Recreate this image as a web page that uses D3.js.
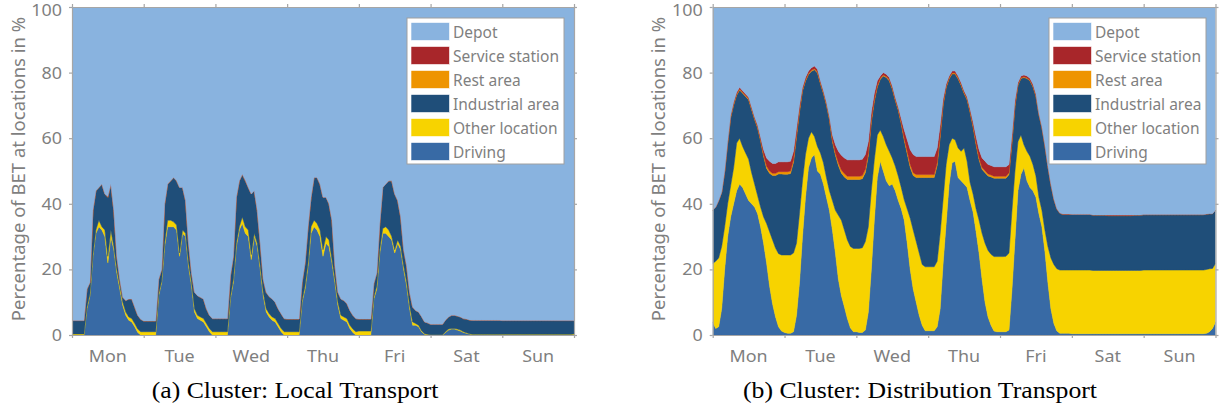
<!DOCTYPE html>
<html>
<head>
<meta charset="utf-8">
<script src="https://cdn.jsdelivr.net/npm/d3@7"></script>
<style>
  body { margin: 0; background: #fff; }
  svg { display: block; }
</style>
</head>
<body>
<svg id="fig" width="1219" height="411"></svg>
<script>
// Hourly share of battery-electric trucks (BET) per location over one week (Mon 0h .. next Mon 0h), in %.

const dayLabels = ["Mon", "Tue", "Wed", "Thu", "Fri", "Sat", "Sun"];
const yTicks = [0, 20, 40, 60, 80, 100];

// ---- Cluster: Local Transport ----
const localDriving = [
  0,0,0,0,0,8,12,24,31,33,32,30,22,30,26,19,14,9,6,4.5,4,2.5,0.8,0,
  0,0,0,0,0,12,16,27,33,33,33,32,24,31,30,21,15,7,5,4.5,4,2.5,1,0,
  0,0,0,0,0,11,16,27,32,34,31,30,23,30,27,20,12,7,5.5,4.5,4,2.5,1,0,
  0,0,0,0,0,10,14,21,31,33,32,30,24,28,27,22,16,9,5,4.5,4,2,0.8,0,
  0,0,0,0,0,11,14,25,31,31,30,29,25,28,26,20,15,8,3,3,2.5,1,0.2,0,
  0,0,0,0,0,0.8,1.5,1.8,1.8,1.5,1.2,0.8,0.5,0.3,0.1,0.1,0.1,0.1,0.1,0.1,0.1,0.1,0.1,0.1,
  0,0,0,0,0,0,0,0,0,0,0,0,0,0,0,0,0,0,0,0,0,0,0,0,
  0
];
const localOther = [
  0.3,0.3,0.3,0.3,0.3,0.5,0.5,0.5,1,2,1,2,2,2,1,1,1,1,1,1,1,1,1,1,
  1,1,1,1,1,0.5,0.5,1,2,2,1.5,1.5,1,1,1,1,1,1,1,1,1,1,1,1,
  1,1,1,1,1,0.5,1,1,1,2,2,2,1.5,1,1,1,1,1,1,1,1,1,1,1,
  1,1,1,1,1,0.5,1,1,2,2,2,2,2,2,2,1,1,1,1,1,1,1,1,1,
  1.2,1.2,1.2,1.2,1.2,0.5,1,1,1.5,2,2,1,1,1,1,1,1,1,1,0.5,0.5,0.3,0.2,0.2,
  0.1,0.1,0.1,0.1,0.1,0.2,0.3,0.2,0.2,0.3,0.3,0.2,0.2,0.1,0.1,0.1,0.1,0.1,0.1,0.1,0.1,0.1,0.1,0.1,
  0.2,0.2,0.2,0.2,0.2,0.2,0.2,0.2,0.2,0.2,0.2,0.2,0.2,0.2,0.2,0.2,0.2,0.2,0.2,0.2,0.2,0.2,0.2,0.2,
  0.3
];
const localIndustrial = [
  4.1,4.1,4.1,4.1,4.1,5.5,3.5,13.5,12,10,13,11,18,14,11,4,2,1.5,3.5,5.5,6,5,4.2,3.8,
  3.3,3.3,3.3,3.3,3.3,4.5,3.5,12,11,12,13.5,13.5,20,13,10,6,3,5,6,6,6,4.5,4,4,
  4,4,4,4,4,6.5,7,14,14,13,14,13,18.5,13,10,7,4,5,5.2,5.5,5,4.5,4.5,4,
  3.9,3.9,3.9,3.9,3.9,5.5,7,11,9,13,14,14,16,12,11,12,4,3,5,5,4.6,4.5,4.2,4,
  3.7,3.7,3.7,3.7,3.7,4.2,4,8,12.5,13,15,17,17,12,9,5,5,4,4.5,4,4,4.3,3.6,3.5,
  3.2,3.2,3.2,3.2,3.2,3.6,3.7,4,4,4,4,4,4.2,4.2,4.3,4.3,4.3,4.3,4.3,4.3,4.3,4.3,4.3,4.3,
  4.2,4.2,4.2,4.2,4.2,4.2,4.2,4.2,4.2,4.2,4.2,4.2,4.2,4.2,4.2,4.2,4.2,4.2,4.2,4.2,4.2,4.2,4.2,4.2,
  4.1
];
const localRest = [
  0,0,0,0,0,0,0,0,0,0,0,0,0,0,0,0,0,0,0,0,0,0,0,0,
  0,0,0,0,0,0,0,0,0,0,0,0,0,0,0,0,0,0,0,0,0,0,0,0,
  0,0,0,0,0,0,0,0,0,0,0,0,0,0,0,0,0,0,0,0,0,0,0,0,
  0,0,0,0,0,0,0,0,0,0,0,0,0,0,0,0,0,0,0,0,0,0,0,0,
  0,0,0,0,0,0,0,0,0,0,0,0,0,0,0,0,0,0,0,0,0,0,0,0,
  0,0,0,0,0,0,0,0,0,0,0,0,0,0,0,0,0,0,0,0,0,0,0,0,
  0,0,0,0,0,0,0,0,0,0,0,0,0,0,0,0,0,0,0,0,0,0,0,0,
  0
];
const localService = [
  0,0,0,0,0,0,0,0,0,0,0,0,0.2,0,0,0,0,0,0,0,0,0,0,0,
  0,0,0,0,0,0,0,0,0,0,0,0,0,0,0,0,0,0,0,0,0,0,0,0,
  0,0,0,0,0,0,0,0,0,0,0.2,0,0,0,0,0,0,0,0,0,0,0,0,0,
  0,0,0,0,0,0,0,0,0,0,0,0,0,0,0,0,0,0,0,0,0,0,0,0,
  0,0,0,0,0,0,0,0,0,0,0,0,0,0,0,0,0,0,0,0,0,0,0,0,
  0,0,0,0,0,0,0,0,0,0,0,0,0,0,0,0,0,0,0,0,0,0,0,0,
  0,0,0,0,0,0,0,0,0,0,0,0,0,0,0,0,0,0,0,0,0,0,0,0,
  0
];

// ---- Cluster: Distribution Transport ----
const distDriving = [
  4,2,2.5,8,20,30,36,40,44,46,45,43,41,40,39,37,33,28,22,15,9.5,5.5,2.5,1.2,
  0.8,0.5,0.5,1,6,16,30,42,51,54,55,50,49,46,42,38,32,25,17,12,8.6,5,2.2,1,
  1,0.8,0.8,1.5,7,20,35,48,53,50,47,45.5,46,44,41,38.5,35,28,20,14,10,6,3,1.3,
  1.3,1.3,1.3,2.5,8,22,34,46,52.5,53,48,47,46,45,41,37.5,31.5,25,17,10,5.5,3,1.2,1,
  1,1,1,1.5,14,29,44,49,51,47,45,44,42,37,33,25.5,16,8,3.5,1.2,0.5,0.5,0.5,0.5,
  0.4,0.4,0.4,0.4,0.4,0.4,0.4,0.4,0.4,0.4,0.4,0.4,0.4,0.4,0.4,0.4,0.4,0.4,0.4,0.4,0.4,0.4,0.4,0.4,
  0.4,0.4,0.4,0.4,0.4,0.4,0.4,0.4,0.4,0.4,0.4,0.4,0.4,0.4,0.4,0.4,0.4,0.4,0.4,0.4,0.4,0.5,1,2,
  4
];
const distOther = [
  17.8,20.5,21,19,13,10,9.5,11,14.5,14,12.5,12.5,12.6,9.5,7,5.5,6,8,12,16.5,19.5,21,22.3,23.2,
  23.6,23.9,23.9,24,22,21,17,13,9,8,5.5,7.5,6.5,6.5,6,6,9,13,19.5,23,23.4,24,24.8,25.4,
  25.4,25.6,25.8,27,26,24,18.4,13,9.5,10.5,11,10.5,8,7.5,7.5,6.5,6.2,10.4,15.6,18,18.5,19,18.5,19.5,
  19.5,19.5,19.5,20,23,19.5,18,12,7.5,6.5,9,9,11,8,5.5,5.5,7,10,14,18,20.3,21.6,22.7,22.9,
  22.9,22.9,23,23.5,24,21,15,12,7,9,9.5,8,6.5,5,5,6.5,11,15.5,18,19,19.3,19.3,19.3,19.3,
  19.4,19.4,19.4,19.4,19.4,19.4,19.4,19.3,19.3,19.3,19.3,19.3,19.3,19.3,19.3,19.3,19.3,19.3,19.3,19.3,19.3,19.3,19.3,19.3,
  19.4,19.4,19.4,19.4,19.4,19.4,19.4,19.4,19.4,19.4,19.4,19.4,19.4,19.4,19.4,19.4,19.4,19.4,19.4,19.4,19.4,19.5,19.2,18.3,
  17.8
];
const distIndustrial = [
  16.2,16.5,17.5,16.5,16.7,18.4,20.7,19.1,14.6,14.7,16.2,17.2,18.1,19.2,19.7,20.6,20.2,18.5,16.8,17.8,19.6,22.1,24.3,24.7,
  24.6,24.6,24.8,27.7,32.4,31,27.4,22.4,19.4,18.4,20.4,22.4,21.1,21.1,22.1,21.7,18,16.8,15.2,14.3,16.2,18.4,20.4,21,
  21,21,21,21,21.7,20.9,17.8,14.6,15.5,18.5,20.5,21.5,21,20,20,19.4,18.2,16.8,15.5,16.6,19.5,23,26.5,27.2,
  27.2,27.2,27.2,29.2,29.4,28.6,23.4,20.1,19.6,20.1,21.1,20.1,16.6,18.7,21.4,20.4,19.5,18.4,19.5,21.5,22.7,23.6,23.9,23.9,
  23.9,23.9,23.8,23.9,20.7,19.7,17.2,17.2,20.5,22.2,23,23.7,24.2,25.2,25.2,25.7,24.4,22.4,19.9,18.2,17.3,17,17,17,
  17,17,17,17,17,17,17,16.9,16.9,16.9,16.9,16.9,16.7,16.7,16.7,16.7,16.7,16.7,16.7,16.7,16.7,16.9,16.9,16.9,
  16.9,16.9,16.9,16.9,16.9,16.9,16.9,16.9,16.9,16.9,16.9,16.9,16.9,16.9,16.9,16.9,16.9,16.9,16.9,16.9,16.9,16.9,16.8,16.7,
  16.2
];
const distRest = [
  0,0,0,0,0.1,0.2,0.3,0.3,0.3,0.3,0.3,0.3,0.3,0.3,0.3,0.3,0.3,0.5,0.7,0.7,0.7,0.7,0.7,0.7,
  0.8,0.8,0.8,0.8,0.6,0.5,0.3,0.3,0.3,0.3,0.3,0.3,0.3,0.3,0.3,0.3,0.5,0.7,0.8,1,1,1,1,1,
  1,1,1,1,0.8,0.6,0.5,0.4,0.3,0.3,0.3,0.3,0.3,0.3,0.3,0.4,0.6,0.8,0.9,0.9,0.9,0.9,0.9,0.9,
  0.9,0.9,0.9,0.8,0.6,0.4,0.3,0.3,0.3,0.3,0.3,0.3,0.3,0.3,0.3,0.4,0.5,0.6,0.6,0.6,0.6,0.6,0.6,0.6,
  0.6,0.6,0.6,0.6,0.5,0.4,0.2,0.2,0.2,0.2,0.2,0.2,0.2,0.1,0.1,0.1,0,0,0,0,0,0,0,0,
  0,0,0,0,0,0,0,0,0,0,0,0,0,0,0,0,0,0,0,0,0,0,0,0,
  0,0,0,0,0,0,0,0,0,0,0,0,0,0,0,0,0,0,0,0,0,0,0,0,
  0
];
const distService = [
  0,0,0,0,0.2,0.4,0.5,0.6,0.6,0.5,0.5,0.5,0.5,0.5,0.5,0.6,0.8,1.5,2.5,3,3,3,3,3,
  3,3,3,2.5,2,1.5,0.8,0.8,0.8,0.8,0.8,0.8,0.6,0.6,0.6,0.6,1.5,2.5,3.5,4.5,4.8,5,5,5,
  5,5,5,4.5,3.5,2.5,2,1.5,0.7,0.7,0.7,0.7,0.7,0.7,0.7,1.2,2.5,3.5,4.5,5.5,5.5,5.5,5.5,5.5,
  5.5,5.5,5.5,4.5,3,1.5,0.8,0.6,0.6,0.6,0.6,0.6,0.6,0.6,0.8,1.2,2,2.5,2.9,2.9,2.9,2.9,2.9,2.9,
  2.9,2.9,2.9,2.5,1.8,1.5,0.6,0.6,0.6,0.6,0.6,0.6,0.6,0.2,0.2,0.2,0.1,0.1,0.1,0.1,0.1,0.1,0.1,0.1,
  0,0,0,0,0,0,0,0,0,0,0,0,0.2,0.2,0.2,0.2,0.2,0.2,0.2,0.2,0.2,0,0,0,
  0,0,0,0,0,0,0,0,0,0,0,0,0,0,0,0,0,0,0,0,0,0,0,0,
  0
];

// ---- appearance ----
const stackKeys = ["driving", "other", "industrial", "rest", "service", "depot"];
const legendKeys = ["depot", "service", "rest", "industrial", "other", "driving"];
const names = {
  depot: "Depot", service: "Service station", rest: "Rest area",
  industrial: "Industrial area", other: "Other location", driving: "Driving"
};
const colors = {
  depot: "#89b3df", service: "#a8262a", rest: "#ee9400",
  industrial: "#1f4e79", other: "#f7d300", driving: "#386aa5"
};
const sansFont = "'Noto Sans', 'Open Sans', sans-serif";
const serifFont = "'Liberation Serif', 'Times New Roman', serif";
const axisColor = "#a6a6a6";
const labelColor = "#7f7f7f";
const stretchX = 1.12;

const panels = [
  {
    id: "local", left: 72, right: 574, top: 7, bottom: 335,
    yLabelX: 25, legendX: 407, captionX: 295,
    caption: "(a) Cluster: Local Transport",
    series: { driving: localDriving, other: localOther, industrial: localIndustrial, rest: localRest, service: localService }
  },
  {
    id: "dist", left: 712.7, right: 1215.5, top: 7, bottom: 335,
    yLabelX: 665, legendX: 1049, captionX: 920,
    caption: "(b) Cluster: Distribution Transport",
    series: { driving: distDriving, other: distOther, industrial: distIndustrial, rest: distRest, service: distService }
  }
];

const svg = d3.select("#fig");

function stretchedText(parent, x, y, str, anchor, sx) {
  return parent.append("text")
    .attr("transform", `translate(${x},${y}) scale(${sx},1)`)
    .attr("text-anchor", anchor)
    .text(str);
}

panels.forEach(p => {
  const g = svg.append("g").attr("class", "panel-" + p.id);
  const hoursInWeek = dayLabels.length * 24;
  const x = d3.scaleLinear().domain([0, hoursInWeek]).range([p.left, p.right]);
  const y = d3.scaleLinear().domain([0, 100]).range([p.bottom, p.top]);

  const rows = p.series.driving.map((_, i) => {
    const r = { hour: i };
    let sum = 0;
    ["driving", "other", "industrial", "rest", "service"].forEach(k => {
      r[k] = p.series[k][i];
      sum += r[k];
    });
    r.depot = Math.max(0, 100 - sum);
    return r;
  });

  const layers = d3.stack().keys(stackKeys)(rows);
  const area = d3.area()
    .x(d => x(d.data.hour))
    .y0(d => y(d[0]))
    .y1(d => y(d[1]));

  const clipId = "clip-" + p.id;
  g.append("clipPath").attr("id", clipId)
    .append("rect")
    .attr("x", p.left).attr("y", p.top)
    .attr("width", p.right - p.left).attr("height", p.bottom - p.top);

  g.append("g").attr("clip-path", `url(#${clipId})`)
    .selectAll("path")
    .data(layers)
    .join("path")
    .attr("d", area)
    .attr("fill", d => colors[d.key])
    .attr("stroke", d => colors[d.key])
    .attr("stroke-width", 0.5);

  // frame axes
  const dayTicks = d3.range(dayLabels.length + 1).map(i => i * 24);
  const styleAxis = sel => {
    sel.select(".domain").attr("stroke", axisColor).attr("stroke-width", 1.2);
    sel.selectAll(".tick line").attr("stroke", axisColor).attr("stroke-width", 1.2);
  };

  const yAxisL = g.append("g").attr("transform", `translate(${p.left},0)`)
    .call(d3.axisLeft(y).tickValues(yTicks).tickSize(3).tickSizeOuter(0).tickPadding(6));
  styleAxis(yAxisL);
  yAxisL.selectAll(".tick text")
    .attr("fill", labelColor)
    .attr("font-family", sansFont)
    .attr("font-size", 16)
    .attr("dy", d => d === 100 ? "0.55em" : "0.34em")
    .attr("transform", `scale(${stretchX},1)`);

  const yAxisR = g.append("g").attr("transform", `translate(${p.right},0)`)
    .call(d3.axisRight(y).tickValues(yTicks).tickSize(3).tickSizeOuter(0).tickFormat(""));
  styleAxis(yAxisR);

  const xAxisB = g.append("g").attr("transform", `translate(0,${p.bottom})`)
    .call(d3.axisBottom(x).tickValues(dayTicks).tickSize(3).tickSizeOuter(0).tickFormat(""));
  styleAxis(xAxisB);

  const xAxisT = g.append("g").attr("transform", `translate(0,${p.top})`)
    .call(d3.axisTop(x).tickValues(dayTicks).tickSize(3).tickSizeOuter(0).tickFormat(""));
  styleAxis(xAxisT);

  // weekday names centred in each day
  const dayG = g.append("g")
    .attr("fill", labelColor).attr("font-family", sansFont).attr("font-size", 16);
  dayLabels.forEach((d, i) => {
    stretchedText(dayG, x(i * 24 + 12), 362, d, "middle", stretchX);
  });

  // y-axis title
  g.append("text")
    .attr("transform", `translate(${p.yLabelX},${(p.top + p.bottom) / 2 - 2}) rotate(-90)`)
    .attr("text-anchor", "middle")
    .attr("fill", labelColor)
    .attr("font-family", sansFont)
    .attr("font-size", 18.5)
    .text("Percentage of BET at locations in %");

  // legend
  const lg = g.append("g").attr("transform", `translate(${p.legendX},18)`);
  lg.append("rect")
    .attr("width", 157).attr("height", 146)
    .attr("fill", "#fff").attr("stroke", "#a0a0a0").attr("stroke-width", 1);
  legendKeys.forEach((k, i) => {
    const row = lg.append("g").attr("transform", `translate(0,${4.5 + i * 24})`);
    row.append("rect")
      .attr("x", 4).attr("y", 0).attr("width", 38.5).attr("height", 18)
      .attr("fill", colors[k]).attr("stroke", "#fff").attr("stroke-width", 0.6);
    const t = stretchedText(row, 46, 15.5, names[k], "start", 0.97);
    t.attr("fill", labelColor).attr("font-family", sansFont).attr("font-size", 16);
  });

  // caption
  svg.append("text")
    .attr("transform", `translate(${p.captionX},398) scale(${stretchX},1)`)
    .attr("text-anchor", "middle")
    .attr("fill", "#000")
    .attr("font-family", serifFont)
    .attr("font-size", 23)
    .text(p.caption);
});
</script>
</body>
</html>
